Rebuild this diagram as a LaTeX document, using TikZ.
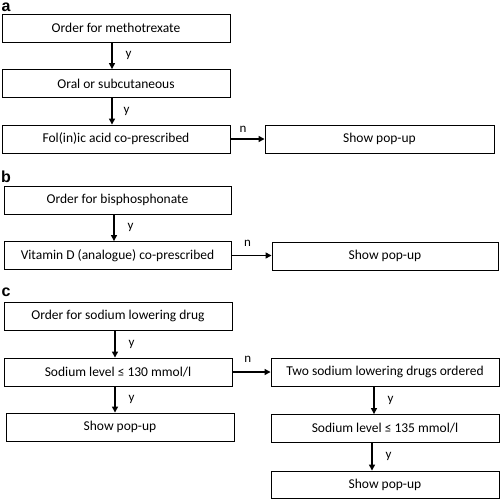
\documentclass[tikz,border=0pt]{standalone}
\usepackage{fontspec}
\setmainfont{Carlito}
\newfontfamily\labfont{Liberation Sans}
\usetikzlibrary{arrows.meta}
\begin{document}
\begin{tikzpicture}[x=1pt,y=-1pt,
  box/.style={draw=black,line width=0.9pt,minimum width=228pt,minimum height=28pt,inner sep=0pt,font=\fontsize{13.5}{15}\selectfont},
  arr/.style={line width=1.3pt,-{Triangle[length=6pt,width=6pt]}},
  yl/.style={font=\fontsize{13}{15}\selectfont,inner sep=0pt},
  panel/.style={font=\labfont\bfseries\fontsize{16}{17}\selectfont,inner sep=0pt}]
\useasboundingbox (0,0) rectangle (500,499);
% panel a
\node[panel] (la) at (6,7.5) {a};
\node[box] (a1) at (116,28) {Order for methotrexate};
\node[box] (a2) at (116,83.5) {Oral or subcutaneous};
\node[box] (a3) at (116,139) {Fol(in)ic acid co-prescribed};
\node[box,minimum width=229pt] (ap) at (379.5,139) {Show pop-up};
\draw[arr] ([xshift=-4pt]a1.south) -- ([xshift=-4pt]a2.north) node[yl,midway,right=13pt] {y};
\draw[arr] ([xshift=-4pt]a2.south) -- ([xshift=-4pt]a3.north) node[yl,midway,right=11pt] {y};
\draw[arr] (a3.east) -- (ap.west) node[yl,pos=0.37,above=6pt] {n};
% panel b
\node[panel] (lb) at (6,177) {b};
\node[box,minimum width=227pt] (b1) at (117.5,200) {Order for bisphosphonate};
\node[box,minimum width=227pt] (b2) at (117.5,255.5) {Vitamin D (analogue) co-prescribed};
\node[box,minimum width=226pt] (bp) at (385,256) {Show pop-up};
\draw[arr] ([xshift=-3.5pt]b1.south) -- ([xshift=-3.5pt]b2.north) node[yl,midway,right=13pt] {y};
\draw[arr] (b2.east) -- (b2.east -| bp.west) node[yl,pos=0.4,above=8pt] {n};
% panel c
\node[panel] (lc) at (6,292) {c};
\node[box] (c1) at (118,316) {Order for sodium lowering drug};
\node[box] (c2) at (118,372) {Sodium level ≤ 130 mmol/l};
\node[box] (c3) at (120,427) {Show pop-up};
\node[box] (r1) at (385,372) {Two sodium lowering drugs ordered};
\node[box] (r2) at (385,428.5) {Sodium level ≤ 135 mmol/l};
\node[box,minimum height=27pt] (r3) at (385,484.5) {Show pop-up};
\draw[arr] ([xshift=-3pt]c1.south) -- ([xshift=-3pt]c2.north) node[yl,midway,right=13pt] {y};
\draw[arr] ([xshift=-3pt]c2.south) -- ([xshift=-5pt]c3.north) node[yl,midway,right=13pt] {y};
\draw[arr] (c2.east) -- (r1.west) node[yl,pos=0.4,above=9pt] {n};
\draw[arr] ([xshift=-11pt]r1.south) -- ([xshift=-11pt]r2.north) node[yl,midway,right=13pt] {y};
\draw[arr] ([xshift=-13pt]r2.south) -- ([xshift=-13pt]r3.north) node[yl,midway,right=13pt] {y};
\end{tikzpicture}
\end{document}
